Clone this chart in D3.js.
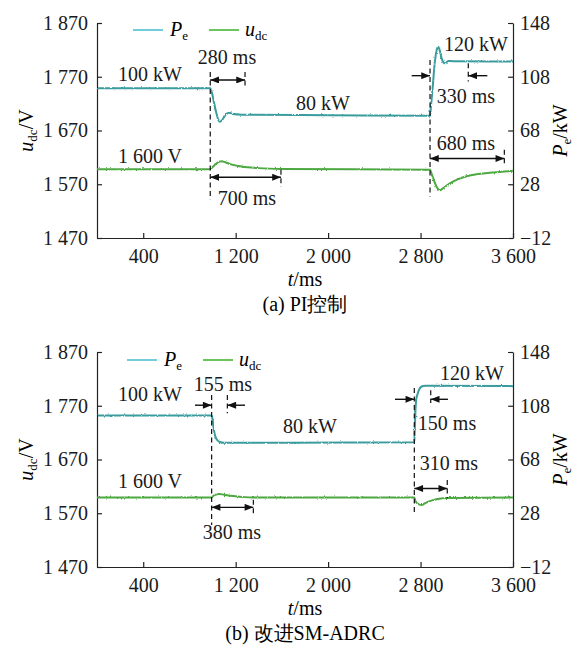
<!DOCTYPE html>
<html>
<head>
    <meta charset="UTF-8">
    <title>PI / SM-ADRC</title>
    <script src="https://d3js.org/d3.v7.min.js"></script>
    <style>
        * { margin: 0; padding: 0; box-sizing: border-box; }
        body { background: #fff; font-family: "Liberation Serif", Tinos, serif; }
    </style>
</head>
<body>
<div id="chart"></div>
<script>
    // axes
    const xTicks = [400, 1200, 2000, 2800, 3600];
    const xTickLabels = ["400", "1 200", "2 000", "2 800", "3 600"];
    const uTicks = [1470, 1570, 1670, 1770, 1870];
    const uTickLabels = ["1 470", "1 570", "1 670", "1 770", "1 870"];
    const pTicks = [-12, 28, 68, 108, 148];
    const pTickLabels = ["\u221212", "28", "68", "108", "148"];

    // (a) PI控制
    const tPa = [0, 980, 995, 1010, 1030, 1050, 1064, 1080, 1110, 1142, 1180, 1250, 2000, 2882, 2890, 2905, 2920, 2940, 2953, 2965, 2985, 3011, 3040, 3080, 3600];
    const Pa  = [99.5, 99.5, 96, 90, 82, 76, 74.5, 75.5, 79.5, 81.2, 80.2, 79.8, 79.4, 79, 86, 100, 116, 128, 130.4, 128, 121, 118, 119.8, 119.6, 119.3];
    const tUa = [0, 980, 1000, 1030, 1060, 1079, 1110, 1160, 1250, 1400, 1600, 2882, 2895, 2920, 2945, 2969, 2990, 3050, 3120, 3199, 3300, 3400, 3487, 3600];
    const Ua  = [1598, 1598, 1602, 1608, 1612, 1613, 1611, 1607, 1603, 1600, 1598.5, 1597, 1590, 1575, 1563, 1559, 1562, 1571, 1579, 1585, 1589, 1591.5, 1593, 1595];

    // (b) 改进SM-ADRC
    const tPb = [0, 992, 1000, 1010, 1021, 1040, 1064, 1100, 2746, 2750, 2756, 2762, 2775, 2790, 2810, 2840, 3600];
    const Pb  = [100.8, 100.8, 98, 91, 86, 82.5, 81, 80.4, 80.8, 90, 105, 112, 117, 120.5, 122.3, 122.8, 122.6];
    const tUb = [0, 992, 1010, 1040, 1056, 1100, 1180, 1280, 1350, 2746, 2755, 2775, 2790, 2810, 2840, 2900, 2960, 3037, 3600];
    const Ub  = [1599.5, 1599.5, 1603, 1605.5, 1606, 1604.5, 1602, 1600, 1599.5, 1599.5, 1593, 1588, 1586, 1585.5, 1589, 1594, 1597, 1598.5, 1599.5];

    // annotations, in (t, u) units
    const dashA = [
        { t: 980, u0: 1779, u1: 1541 }, { t: 1281, u0: 1779, u1: 1748 }, { t: 1592, u0: 1597, u1: 1565 },
        { t: 2882, u0: 1801, u1: 1547 }, { t: 3213, u0: 1795, u1: 1761 }, { t: 3525, u0: 1634, u1: 1603 }
    ];
    const arrowA = [
        { t0: 980, t1: 1281, u: 1764, both: true }, { t0: 980, t1: 1592, u: 1583, both: true },
        { t0: 2723, t1: 2882, u: 1772 }, { t0: 3378, t1: 3213, u: 1772 },
        { t0: 2882, t1: 3525, u: 1618, both: true }
    ];
    const labelA = [
        { s: "100 kW", t: 459, u: 1762 }, { s: "280 ms", t: 1125, u: 1794 }, { s: "80 kW", t: 1956, u: 1708 },
        { s: "120 kW", t: 3280, u: 1818 }, { s: "330 ms", t: 3193, u: 1721 }, { s: "680 ms", t: 3193, u: 1634 },
        { s: "1 600 V", t: 459, u: 1609.5 }, { s: "700 ms", t: 1298, u: 1531 }
    ];

    const dashB = [
        { t: 992, u0: 1790, u1: 1548 }, { t: 1128, u0: 1790, u1: 1756 }, { t: 1353, u0: 1595, u1: 1567 },
        { t: 2746, u0: 1803, u1: 1572 }, { t: 2888, u0: 1799, u1: 1775 }, { t: 3031, u0: 1632, u1: 1598 }
    ];
    const arrowB = [
        { t0: 848, t1: 992, u: 1771 }, { t0: 1281, t1: 1128, u: 1771 },
        { t0: 992, t1: 1353, u: 1581, both: true },
        { t0: 2579, t1: 2746, u: 1782 }, { t0: 3037, t1: 2888, u: 1782 },
        { t0: 2746, t1: 3031, u: 1616, both: true }
    ];
    const labelB = [
        { s: "100 kW", t: 459, u: 1779 }, { s: "155 ms", t: 1090, u: 1797 }, { s: "80 kW", t: 1843, u: 1719 },
        { s: "120 kW", t: 3245, u: 1818 }, { s: "150 ms", t: 3029, u: 1725 }, { s: "310 ms", t: 3046, u: 1650.5 },
        { s: "1 600 V", t: 459, u: 1617 }, { s: "380 ms", t: 1168, u: 1522 }
    ];

    const W = 573, H = 645;
    const left = 97, right = 513, ph = 215;
    const fs = 20;
    const serif = "Liberation Serif";
    const cP = "#3a9c9e", cU = "#4da843";
    const cPleg = "#62c8d6", cUleg = "#5cbf4a";

    const svg = d3.select("#chart").append("svg")
        .attr("width", W)
        .attr("height", H)
        .attr("font-family", serif);

    svg.append("rect").attr("width", W).attr("height", H).attr("fill", "#fff");

    const defs = svg.append("defs");
    defs.append("marker")
        .attr("id", "arr")
        .attr("viewBox", "0 0 10 8")
        .attr("refX", 10).attr("refY", 4)
        .attr("markerWidth", 11).attr("markerHeight", 7)
        .attr("markerUnits", "userSpaceOnUse")
        .attr("orient", "auto-start-reverse")
        .append("path").attr("d", "M0,0L10,4L0,8Z").attr("fill", "#111");

    const jitter = defs.append("filter")
        .attr("id", "jitter")
        .attr("filterUnits", "userSpaceOnUse")
        .attr("x", 0).attr("y", -20).attr("width", W).attr("height", 260);
    jitter.append("feTurbulence")
        .attr("type", "fractalNoise")
        .attr("baseFrequency", "0.7 0.3")
        .attr("numOctaves", 1)
        .attr("seed", 4)
        .attr("result", "n");
    jitter.append("feDisplacementMap")
        .attr("in", "SourceGraphic").attr("in2", "n")
        .attr("scale", 2.6)
        .attr("xChannelSelector", "R").attr("yChannelSelector", "G");

    function subText(sel, main, sub, tail) {
        sel.append("tspan").attr("font-style", "italic").text(main);
        sel.append("tspan").attr("font-size", 13).attr("dy", 4).text(sub);
        if (tail) sel.append("tspan").attr("dy", -4).text(tail);
    }

    function drawPanel(p) {
        const g = svg.append("g").attr("transform", `translate(0,${p.top})`);

        const x = d3.scaleLinear().domain([0, 3600]).range([left, right]);
        const yU = d3.scaleLinear().domain([1470, 1870]).range([ph, 0]);
        const yP = d3.scaleLinear().domain([-12, 148]).range([ph, 0]);

        // axes
        const ax = g.append("g")
            .attr("transform", `translate(0,${ph})`)
            .call(d3.axisBottom(x).tickValues(xTicks)
                .tickFormat((d, i) => xTickLabels[i])
                .tickSizeInner(-5).tickSizeOuter(0).tickPadding(11));
        const ayL = g.append("g")
            .attr("transform", `translate(${left},0)`)
            .call(d3.axisLeft(yU).tickValues(uTicks)
                .tickFormat((d, i) => uTickLabels[i])
                .tickSizeInner(-5).tickSizeOuter(0).tickPadding(9));
        const ayR = g.append("g")
            .attr("transform", `translate(${right},0)`)
            .call(d3.axisRight(yP).tickValues(pTicks)
                .tickFormat((d, i) => pTickLabels[i])
                .tickSizeInner(-5).tickSizeOuter(0).tickPadding(7));

        [ax, ayL, ayR].forEach(a => {
            a.attr("font-size", fs);
            a.selectAll("path, line").attr("stroke", "#222").attr("stroke-width", 1.2);
            a.selectAll("text").attr("fill", "#1a1a1a");
        });

        // curves
        const lineU = d3.line().x(d => x(d[0])).y(d => yU(d[1])).curve(d3.curveMonotoneX);
        const lineP = d3.line().x(d => x(d[0])).y(d => yP(d[1])).curve(d3.curveMonotoneX);

        g.append("path")
            .datum(d3.zip(p.tU, p.U))
            .attr("d", lineU)
            .attr("fill", "none")
            .attr("stroke", cU)
            .attr("stroke-width", 2)
            .attr("filter", "url(#jitter)");

        g.append("path")
            .datum(d3.zip(p.tP, p.P))
            .attr("d", lineP)
            .attr("fill", "none")
            .attr("stroke", cP)
            .attr("stroke-width", 2)
            .attr("filter", "url(#jitter)");

        // dashed guides
        g.selectAll(".guide")
            .data(p.dash)
            .join("line")
            .attr("x1", d => x(d.t)).attr("x2", d => x(d.t))
            .attr("y1", d => yU(d.u0)).attr("y2", d => yU(d.u1))
            .attr("stroke", "#111")
            .attr("stroke-width", 1.2)
            .attr("stroke-dasharray", "5,3.5");

        // arrows
        g.selectAll(".arrow")
            .data(p.arrows)
            .join("line")
            .attr("x1", d => x(d.t0)).attr("x2", d => x(d.t1))
            .attr("y1", d => yU(d.u)).attr("y2", d => yU(d.u))
            .attr("stroke", "#111")
            .attr("stroke-width", 1.4)
            .attr("marker-end", "url(#arr)")
            .attr("marker-start", d => d.both ? "url(#arr)" : null);

        // labels
        g.selectAll(".lab")
            .data(p.labels)
            .join("text")
            .attr("x", d => x(d.t))
            .attr("y", d => yU(d.u))
            .attr("text-anchor", "middle")
            .attr("font-size", fs)
            .attr("fill", "#1a1a1a")
            .text(d => d.s);

        // legend
        const lg = g.append("g").attr("transform", `translate(0,${p.legY})`);
        lg.append("line").attr("x1", p.legX[0]).attr("x2", p.legX[0] + 30)
            .attr("stroke", cPleg).attr("stroke-width", 1.8);
        subText(lg.append("text").attr("x", p.legX[0] + 37).attr("y", 6).attr("font-size", fs), "P", "e");
        lg.append("line").attr("x1", p.legX[1]).attr("x2", p.legX[1] + 30)
            .attr("stroke", cUleg).attr("stroke-width", 1.8);
        subText(lg.append("text").attr("x", p.legX[1] + 36).attr("y", 6).attr("font-size", fs), "u", "dc");

        // axis titles
        subText(g.append("text")
            .attr("transform", `translate(33,${ph / 2}) rotate(-90)`)
            .attr("text-anchor", "middle")
            .attr("font-size", fs), "u", "dc", "/V");
        subText(g.append("text")
            .attr("transform", `translate(567,${ph / 2}) rotate(-90)`)
            .attr("text-anchor", "middle")
            .attr("font-size", fs), "P", "e", "/kW");

        const tl = g.append("text")
            .attr("x", 305).attr("y", ph + 48)
            .attr("text-anchor", "middle")
            .attr("font-size", fs);
        tl.append("tspan").attr("font-style", "italic").text("t");
        tl.append("tspan").text("/ms");

        g.append("text")
            .attr("x", 305).attr("y", ph + 73)
            .attr("text-anchor", "middle")
            .attr("font-size", fs)
            .text(p.caption);
    }

    drawPanel({
        top: 23, tP: tPa, P: Pa, tU: tUa, U: Ua,
        dash: dashA, arrows: arrowA, labels: labelA,
        legX: [133, 209], legY: 7, caption: "(a) PI控制"
    });
    drawPanel({
        top: 352, tP: tPb, P: Pb, tU: tUb, U: Ub,
        dash: dashB, arrows: arrowB, labels: labelB,
        legX: [127, 203], legY: 8, caption: "(b) 改进SM-ADRC"
    });

    // every text element gets the serif face directly
    svg.selectAll("text").attr("font-family", serif);
</script>
</body>
</html>
